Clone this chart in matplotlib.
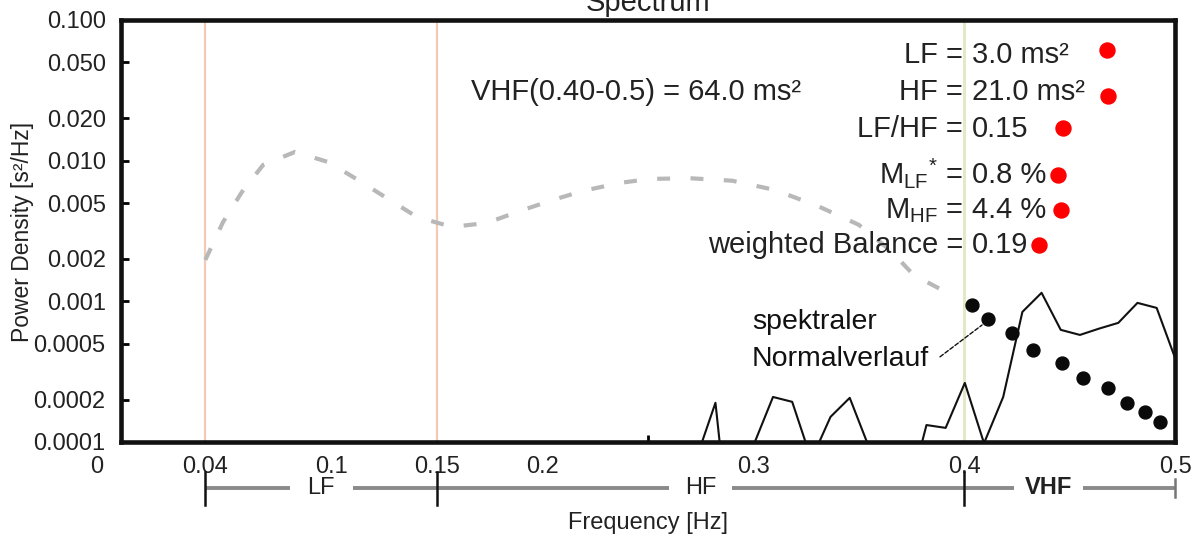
import matplotlib
matplotlib.use("Agg")
import matplotlib.pyplot as plt
from matplotlib.transforms import blended_transform_factory

plt.rcParams['font.family'] = ['Liberation Sans', 'DejaVu Sans']
plt.rcParams['mathtext.fontset'] = 'custom'
plt.rcParams['mathtext.rm'] = 'Liberation Sans'
plt.rcParams['mathtext.it'] = 'Liberation Sans'
plt.rcParams['mathtext.bf'] = 'Liberation Sans:bold'
plt.rcParams['mathtext.default'] = 'regular'

# spectral norm curve (dashed part)
norm_freq = [0.040, 0.0484, 0.0574, 0.0674, 0.0825, 0.0982, 0.1124, 0.1267, 0.1404,
             0.157, 0.1736, 0.1893, 0.2049, 0.2192, 0.2367, 0.251, 0.270, 0.290,
             0.310, 0.330, 0.350, 0.365, 0.376, 0.392]
norm_psd = [0.00197, 0.00366, 0.0060, 0.00932, 0.01153, 0.00979, 0.0073, 0.00535, 0.00398,
            0.00338, 0.00361, 0.00439, 0.00526, 0.0061, 0.00695, 0.00742, 0.0075, 0.0072,
            0.0062, 0.0048, 0.0035, 0.0023, 0.00154, 0.00115]

# spectral norm curve in the VHF band (dots)
norm_dot_freq = [0.4037, 0.4113, 0.4227, 0.4326, 0.4464, 0.4564, 0.4682, 0.4772, 0.4858, 0.4929]
norm_dot_psd = [0.000942, 0.000750, 0.000596, 0.000452, 0.000365, 0.000286, 0.000242,
                0.000190, 0.000164, 0.000139]

# measured spectrum
spec_freq = [0.2729, 0.2820, 0.2911, 0.3002, 0.3093, 0.3184, 0.3275, 0.3366, 0.3457,
             0.3548, 0.3639, 0.3730, 0.3821, 0.3912, 0.4003, 0.4094, 0.4185, 0.4276,
             0.4367, 0.4458, 0.4549, 0.4640, 0.4731, 0.4822, 0.4913, 0.5000]
spec_psd = [7.6e-5, 1.9e-4, 1.0e-5, 9.6e-5, 2.09e-4, 1.93e-4, 7.5e-5, 1.51e-4, 2.06e-4,
            9.2e-5, 3.0e-5, 3.9e-5, 1.32e-4, 1.26e-4, 2.63e-4, 9.8e-5, 2.09e-4, 8.41e-4,
            1.15e-3, 6.27e-4, 5.77e-4, 6.4e-4, 7.03e-4, 9.75e-4, 8.98e-4, 3.97e-4]

# frequency bands
band_edges = [0.04, 0.15, 0.40, 0.50]
band_names = ['LF', 'HF', 'VHF']
band_label_freq = [0.095, 0.275, 0.44]

# summary values
stat_names = ['LF =', 'HF =', 'LF/HF =', r'M$_{LF}{}^{*}$ =', r'M$_{HF}$ =', 'weighted Balance =']
stat_values = ['3.0 ms²', '21.0 ms²', '0.15', '0.8 %', '4.4 %', '0.19']
stat_level = [0.0495, 0.0270, 0.01474, 0.00694, 0.00392, 0.00221]
indicator_freq = [0.4677, 0.4682, 0.4469, 0.4445, 0.4459, 0.4355]
indicator_psd = [0.0612, 0.0288, 0.0171, 0.00791, 0.00447, 0.00252]
vhf_text = 'VHF(0.40-0.5) = 64.0 ms²'

yticks = [0.1, 0.05, 0.02, 0.01, 0.005, 0.002, 0.001, 0.0005, 0.0002, 0.0001]
ytick_labels = ['0.100', '0.050', '0.020', '0.010', '0.005', '0.002', '0.001',
                '0.0005', '0.0002', '0.0001']
xticks = [0.04, 0.1, 0.15, 0.2, 0.3, 0.4, 0.5]
xtick_labels = ['0.04', '0.1', '0.15', '0.2', '0.3', '0.4', '0.5']
xtick_marks = [0.1, 0.2, 0.25, 0.3, 0.4]

W, H = 1200, 537
fig = plt.figure(figsize=(W / 100, H / 100), dpi=100)
ax = fig.add_axes([121 / W, 1 - 442 / H, (1175 - 121) / W, (442 - 20) / H])
ax.set_yscale('log')
ax.set_xlim(0, 0.5)
ax.set_ylim(0.0001, 0.1)

for s in ax.spines.values():
    s.set_linewidth(3.3)
    s.set_color('#111111')

# band boundaries
ax.axvline(0.04, color='#f2c9b4', lw=1.6, zorder=1)
ax.axvline(0.15, color='#f2c9b4', lw=1.6, zorder=1)
ax.axvline(0.40, color='#e4e8c8', lw=2.2, zorder=1)

# spectral norm
ax.plot(norm_freq, norm_psd, color='#b8b8b8', lw=3.0, dashes=(3.1, 4.9),
        solid_capstyle='butt', dash_capstyle='butt', zorder=2)
ax.plot(norm_dot_freq, norm_dot_psd, ls='none', marker='o', ms=9.3,
        color='#0a0a0a', zorder=4)

# spectrum
ax.plot(spec_freq, spec_psd, color='#111111', lw=1.5, zorder=3)

# summary indicators
ax.plot(indicator_freq, indicator_psd, ls='none', marker='o', ms=10.8,
        color='#ff0000', zorder=5)

for name, val, lev in zip(stat_names, stat_values, stat_level):
    ax.text(0.3995, lev, name, ha='right', va='baseline', fontsize=21, color='#222222', zorder=6)
    ax.text(0.4037, lev, val, ha='left', va='baseline', fontsize=21, color='#222222', zorder=6)

ax.text(0.1661, 0.0270, vhf_text, ha='left', va='baseline', fontsize=21, color='#222222')

# label for the norm curve
ax.text(0.2993, 0.000635, 'spektraler', ha='left', va='baseline', fontsize=20.5, color='#111111')
ax.text(0.2993, 0.000347, 'Normalverlauf', ha='left', va='baseline', fontsize=20.5, color='#111111')
ax.annotate('', xy=(0.4085, 0.000679), xytext=(0.3885, 0.000403),
            arrowprops=dict(arrowstyle='-', lw=1.0, ls=(0, (3, 1.5)), color='#111111',
                            shrinkA=0, shrinkB=0))

# axes ticks
ax.set_yticks(yticks)
ax.set_yticklabels(ytick_labels)
ax.yaxis.set_minor_locator(plt.NullLocator())
ax.tick_params(axis='y', which='major', direction='in', length=6, width=2,
               labelsize=17, pad=11, labelcolor='#222222')
ax.set_xticks(xticks)
ax.set_xticklabels(xtick_labels)
ax.tick_params(axis='x', which='major', length=0, labelsize=17, pad=10, labelcolor='#222222')
ax.set_xticks(xtick_marks, minor=True)
ax.tick_params(axis='x', which='minor', direction='in', length=5, width=2)
fig.text(97 / W, 1 - 456 / H, '0', ha='center', va='top', fontsize=17, color='#222222')

# band bar below the axis
tr = blended_transform_factory(ax.transData, ax.transAxes)
gap = [0.015, 0.015, 0.0165]
y_bar = -0.109
for i, name in enumerate(band_names):
    lo, hi = band_edges[i], band_edges[i + 1]
    c = band_label_freq[i]
    for a, b in ((lo, c - gap[i]), (c + gap[i], hi)):
        ax.plot([a, b], [y_bar, y_bar], color='#8a8a8a', lw=2.8, transform=tr,
                clip_on=False, solid_capstyle='butt')
    ax.text(c, y_bar, name, ha='center', va='center', fontsize=17,
            fontweight='bold' if name == 'VHF' else 'normal', color='#222222',
            transform=tr, clip_on=False)
for e in band_edges[:-1]:
    ax.plot([e, e], [-0.071, -0.149], color='#111111', lw=1.8, transform=tr, clip_on=False)
ax.plot([0.5, 0.5], [-0.088, -0.13], color='#777777', lw=1.8, transform=tr, clip_on=False)

fig.text(0.54, 1 - 529 / H, 'Frequency [Hz]', ha='center', va='baseline', fontsize=17,
         color='#222222')
fig.text(23 / W, 1 - 232 / H, 'Power Density [s²/Hz]', ha='center', va='center',
         rotation=90, fontsize=16.5, color='#222222')
fig.text(0.54, 1 - 11 / H, 'Spectrum', ha='center', va='baseline', fontsize=21,
         color='#222222')

fig.savefig('out.png', dpi=100)
